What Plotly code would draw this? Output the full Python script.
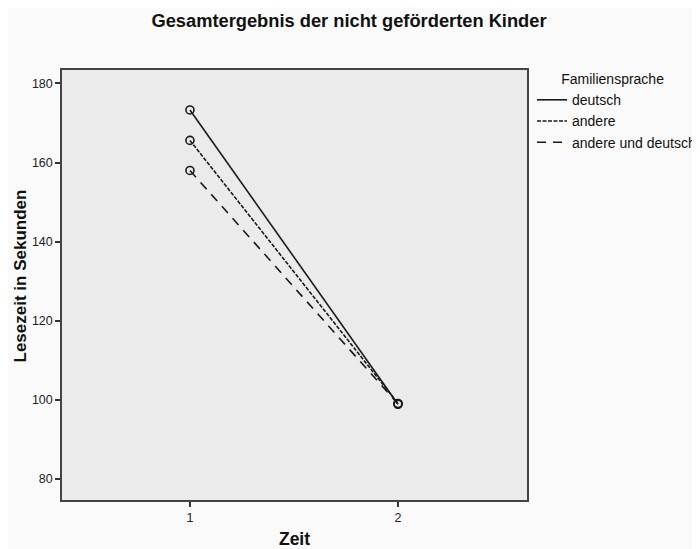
import plotly.graph_objects as go

zeit = [1, 2]
deutsch = [173.3, 98.9]
andere = [165.6, 99.1]
andere_und_deutsch = [158.0, 99.0]
series_names = ["deutsch", "andere", "andere und deutsch"]
series_values = [deutsch, andere, andere_und_deutsch]
dashes = ["solid", "4px,1.5px", "9px,7px"]
y_ticks = [80, 100, 120, 140, 160, 180]
x_ticks = [1, 2]

font = "Liberation Sans, Arial, sans-serif"
ink = "#1a1a1a"
fig = go.Figure()
for name, vals, d in zip(series_names, series_values, dashes):
    fig.add_trace(go.Scatter(
        x=zeit, y=vals, name=name, mode="lines",
        line=dict(color=ink, width=1.6, dash=d),
    ))
for name, vals in zip(series_names, series_values):
    fig.add_trace(go.Scatter(
        x=zeit, y=vals, name=name, mode="markers", showlegend=False,
        marker=dict(symbol="circle-open", size=8, color=ink, line=dict(width=1.6)),
    ))

# page body has an 8px margin: figure is drawn 8px right/down of the window corner
W, H = 700, 541
L, R, T, B = 54, 181, 62, 49
pw, ph = W - L - R, H - T - B
fig.update_layout(
    width=W, height=H,
    paper_bgcolor="#fafafa", plot_bgcolor="#ebebeb",
    margin=dict(l=L, r=R, t=T, b=B, autoexpand=False),
    title=dict(text="<b>Gesamtergebnis der nicht geförderten Kinder</b>", xref="container",
               x=341 / W, xanchor="center", yref="container",
               y=1 - 13 / H, yanchor="middle", font=dict(family=font, size=18.3, color="#111")),
    font=dict(family=font, color="#111"),
    showlegend=True,
    legend=dict(x=(524 - L) / pw, xanchor="left", y=1 + 4 / ph, yanchor="top",
                bgcolor="rgba(0,0,0,0)", font=dict(size=14, color="#111"),
                title=dict(text="       Familiensprache", font=dict(size=14, color="#111")),
                itemwidth=30, tracegroupgap=0),
    annotations=[dict(text="<b>Lesezeit in Sekunden</b>", textangle=-90, showarrow=False,
                      xref="paper", yref="paper", x=(11.5 - L) / pw, y=(T + ph - 268) / ph,
                      xanchor="center", yanchor="middle",
                      font=dict(family=font, size=17, color="#111"))],
)
fig.update_xaxes(range=[0.385, 2.62], tickvals=x_ticks, ticktext=[str(v) for v in x_ticks],
                 showgrid=False, zeroline=False, showline=True, linecolor="#444", linewidth=1.5,
                 mirror=True, ticks="outside", ticklen=5, tickcolor="#333", tickwidth=1.5,
                 tickfont=dict(size=12.5, color="#222"), automargin=False,
                 title=dict(text="<b>Zeit</b>", font=dict(size=17.5, color="#111"), standoff=16))
fig.update_yaxes(range=[74.7, 183.4], tickvals=y_ticks, ticktext=[str(v) for v in y_ticks],
                 showgrid=False, zeroline=False, showline=True, linecolor="#444", linewidth=1.5,
                 mirror=True, ticks="outside", ticklen=5, tickcolor="#333", tickwidth=1.5,
                 tickfont=dict(size=12.5, color="#222"), automargin=False)

fig.write_html("out.html")
